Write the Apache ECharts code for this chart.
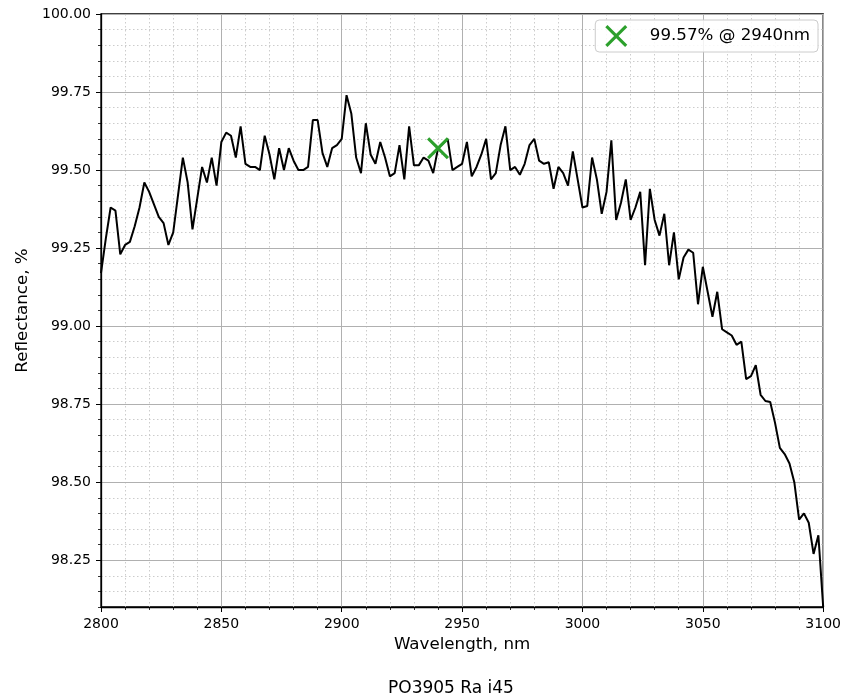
<!DOCTYPE html>
<html>
<head>
<meta charset="utf-8">
<script src="https://cdn.jsdelivr.net/npm/echarts@6/dist/echarts.min.js"></script>
<style>
html,body{margin:0;padding:0;background:#fff;}
#chart{width:844px;height:698px;}
</style>
</head>
<body>
<div id="chart"></div>
<script>
// Wavelength sampling grid (nm)
const wlStart = 2800;
const wlStep = 2;
// Reflectance values (%), one per sample from 2800 to 3100 nm
const reflectance = [
  99.17, 99.28, 99.38, 99.37, 99.23, 99.26, 99.27, 99.32, 99.38, 99.46,
  99.43, 99.39, 99.35, 99.33, 99.26, 99.30, 99.42, 99.54, 99.46, 99.31,
  99.41, 99.51, 99.46, 99.54, 99.45, 99.59, 99.62, 99.61, 99.54, 99.64,
  99.52, 99.51, 99.51, 99.50, 99.61, 99.55, 99.47, 99.57, 99.50, 99.57,
  99.53, 99.50, 99.50, 99.51, 99.66, 99.66, 99.555, 99.51, 99.57, 99.58,
  99.60, 99.74, 99.68, 99.54, 99.49, 99.65, 99.55, 99.52, 99.59, 99.54,
  99.48, 99.49, 99.58, 99.47, 99.64, 99.515, 99.515, 99.54, 99.53, 99.49,
  99.57, 99.585, 99.60, 99.50, 99.51, 99.52, 99.59, 99.48, 99.51, 99.55,
  99.60, 99.47, 99.49, 99.58, 99.64, 99.50, 99.51, 99.485, 99.52, 99.58,
  99.60, 99.53, 99.52, 99.525, 99.44, 99.51, 99.49, 99.45, 99.56, 99.47,
  99.38, 99.385, 99.54, 99.47, 99.36, 99.43, 99.595, 99.34, 99.395, 99.47,
  99.34, 99.38, 99.43, 99.195, 99.44, 99.34, 99.29, 99.36, 99.195, 99.30,
  99.15, 99.22, 99.245, 99.235, 99.07, 99.19, 99.11, 99.03, 99.11, 98.99,
  98.98, 98.97, 98.94, 98.95, 98.83, 98.84, 98.875, 98.78, 98.76, 98.757,
  98.69, 98.61, 98.59, 98.56, 98.50, 98.38, 98.40, 98.37, 98.27, 98.33,
  98.10
];
// Highlighted point
const peakWl = 2940;
const peakValue = 99.57;
const peakLabel = '99.57% @ 2940nm';
// Axis ticks
const xTicks = [2800, 2850, 2900, 2950, 3000, 3050, 3100];
const yTicks = [98.25, 98.50, 98.75, 99.00, 99.25, 99.50, 99.75, 100.00];
const yMin = 98.1, yMax = 100;
const xTitle = 'Wavelength, nm';
const yTitle = 'Reflectance, %';
const caption = 'PO3905 Ra i45';

const lineData = reflectance.map((v, i) => [wlStart + i * wlStep, v]);
const xIcon = 'path://M0,2L2,0L10,8L18,0L20,2L12,10L20,18L18,20L10,12L2,20L0,18L8,10Z';
const FONT = 'DejaVu Sans';

const chart = echarts.init(document.getElementById('chart'), null, {renderer: 'canvas'});
chart.setOption({
  animation: false,
  backgroundColor: '#fff',
  textStyle: {fontFamily: FONT},
  title: {
    text: caption, left: 383, top: 675,
    textStyle: {fontFamily: FONT, fontSize: 17, fontWeight: 'normal', color: '#000'}
  },
  legend: {
    data: [peakLabel], right: 26, top: 20,
    backgroundColor: 'rgba(255,255,255,0.85)', borderColor: '#cccccc', borderWidth: 1, borderRadius: 4,
    padding: [5, 8, 5, 10], itemWidth: 23, itemHeight: 22,
    itemStyle: {opacity: 1},
    textStyle: {fontFamily: FONT, fontSize: 16.7, color: '#000', padding: [0, 0, 0, 17]}
  },
  grid: {left: 101, right: 20, top: 14, bottom: 91, show: true, borderColor: '#000', borderWidth: 1.3, backgroundColor: '#fff'},
  xAxis: {
    type: 'value', min: xTicks[0], max: xTicks[xTicks.length - 1], interval: 50,
    name: xTitle, nameLocation: 'middle', nameGap: 29,
    nameTextStyle: {fontFamily: FONT, fontSize: 16.7, color: '#000'},
    axisLine: {show: true, lineStyle: {color: '#000', width: 1.3}},
    axisTick: {show: true, length: 5, lineStyle: {color: '#000', width: 1}},
    minorTick: {show: true, splitNumber: 5, length: 3, lineStyle: {color: '#000', width: 0.8}},
    axisLabel: {fontFamily: FONT, fontSize: 14, color: '#000', margin: 10, formatter: v => String(v)},
    splitLine: {show: true, lineStyle: {color: '#b0b0b0', width: 1, type: 'solid'}},
    minorSplitLine: {show: true, lineStyle: {color: '#cccccc', width: 1, type: [1.5, 2.5]}}
  },
  yAxis: [
    {
      type: 'value', min: yMin, max: yMax, z: 1,
      name: yTitle, nameLocation: 'middle', nameGap: 60, nameRotate: 90,
      nameTextStyle: {fontFamily: FONT, fontSize: 16.7, color: '#000'},
      axisLine: {show: true, lineStyle: {color: '#000', width: 1.3}},
      axisTick: {show: true, length: 5, customValues: yTicks, lineStyle: {color: '#000', width: 1}},
      axisLabel: {fontFamily: FONT, fontSize: 14, color: '#000', margin: 10, customValues: yTicks, formatter: v => v.toFixed(2)},
      splitLine: {show: true, lineStyle: {color: '#b0b0b0', width: 1, type: 'solid'}}
    },
    {
      type: 'value', min: yMin, max: yMax, interval: 0.05, position: 'left', z: 0,
      axisLine: {show: false},
      axisTick: {show: true, length: 3, lineStyle: {color: '#000', width: 0.8}},
      axisLabel: {show: false},
      splitLine: {show: true, lineStyle: {color: '#cccccc', width: 1, type: [1.5, 2.5]}}
    }
  ],
  series: [
    {
      name: 'Reflectance', type: 'line', data: lineData, yAxisIndex: 0,
      showSymbol: false, symbol: 'none',
      lineStyle: {color: '#000', width: 2}, z: 3
    },
    {
      name: peakLabel, type: 'scatter', data: [[peakWl, peakValue]], yAxisIndex: 0,
      symbol: xIcon, symbolSize: 22, itemStyle: {color: '#2ca02c', opacity: 1}, z: 4
    }
  ]
});
</script>
</body>
</html>
